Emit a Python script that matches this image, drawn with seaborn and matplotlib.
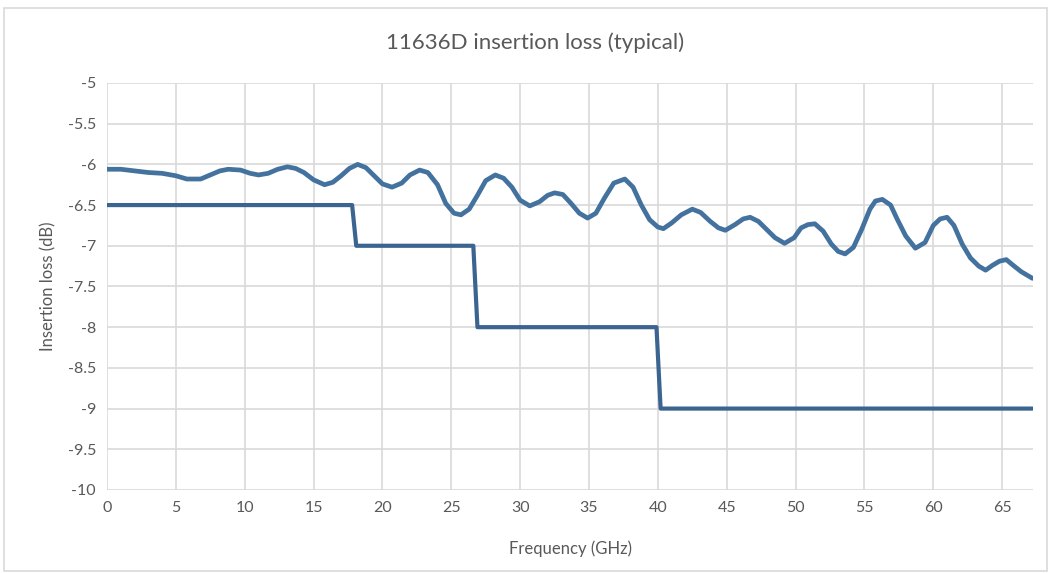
# 11636D insertion loss (typical) - Excel style line chart

import numpy as np
import pandas as pd
import seaborn as sns
import matplotlib.pyplot as plt
from matplotlib.patches import Rectangle


# =========================================
# DATA
# =========================================

freq_ghz = [
    0.0, 1.0, 2.0, 3.0, 4.0, 5.0, 5.8, 6.8, 7.5, 8.2, 8.8, 9.7, 10.4, 11.0,
    11.7, 12.4, 13.1, 13.7, 14.3, 15.0, 15.8, 16.4, 17.0, 17.6, 18.2, 18.8,
    19.4, 20.0, 20.7, 21.4, 22.0, 22.7, 23.3, 24.0, 24.6, 25.2, 25.7, 26.3,
    26.9, 27.5, 28.2, 28.8, 29.4, 30.0, 30.7, 31.4, 32.0, 32.5, 33.1, 33.7,
    34.3, 34.9, 35.5, 36.1, 36.8, 37.6, 38.2, 38.8, 39.4, 40.0, 40.4, 41.0,
    41.7, 42.5, 43.1, 43.8, 44.4, 44.9, 45.6, 46.2, 46.7, 47.3, 47.9, 48.5,
    49.2, 49.9, 50.4, 50.9, 51.4, 52.0, 52.6, 53.1, 53.6, 54.2, 54.8, 55.4,
    55.8, 56.3, 56.9, 57.4, 58.0, 58.7, 59.4, 60.0, 60.5, 61.0, 61.5, 62.1,
    62.7, 63.3, 63.8, 64.3, 64.8, 65.3, 65.8, 66.4, 67.2,
]

loss_typical_db = [
    -6.06, -6.06, -6.08, -6.10, -6.11, -6.14, -6.18, -6.18, -6.13, -6.08,
    -6.06, -6.07, -6.11, -6.13, -6.11, -6.06, -6.03, -6.05, -6.10, -6.19,
    -6.25, -6.22, -6.14, -6.05, -6.00, -6.04, -6.14, -6.24, -6.28, -6.23,
    -6.13, -6.07, -6.10, -6.25, -6.48, -6.60, -6.62, -6.55, -6.38, -6.20,
    -6.13, -6.17, -6.28, -6.44, -6.51, -6.46, -6.38, -6.35, -6.37, -6.48,
    -6.60, -6.66, -6.60, -6.42, -6.23, -6.18, -6.28, -6.50, -6.68, -6.77,
    -6.79, -6.72, -6.62, -6.55, -6.59, -6.70, -6.78, -6.81, -6.74, -6.67,
    -6.65, -6.70, -6.80, -6.90, -6.97, -6.90, -6.78, -6.74, -6.73, -6.82,
    -6.98, -7.07, -7.10, -7.02, -6.80, -6.55, -6.45, -6.43, -6.50, -6.68,
    -6.88, -7.03, -6.96, -6.75, -6.67, -6.65, -6.75, -6.98, -7.15, -7.25,
    -7.30, -7.24, -7.19, -7.17, -7.24, -7.32, -7.40,
]

spec_freq_ghz = [0.0, 17.8, 18.1, 26.6, 26.9, 39.9, 40.2, 67.2]
spec_loss_db = [-6.5, -6.5, -7.0, -7.0, -8.0, -8.0, -9.0, -9.0]

x_ticks = list(range(0, 70, 5))
y_ticks = [-10, -9.5, -9, -8.5, -8, -7.5, -7, -6.5, -6, -5.5, -5]
y_tick_labels = ["-10", "-9.5", "-9", "-8.5", "-8", "-7.5", "-7", "-6.5",
                 "-6", "-5.5", "-5"]


# =========================================
# PLOT
# =========================================

sns.set_style("white")
plt.rcParams['font.family'] = ['Lato', 'DejaVu Sans']

text_color = "#595959"

fig = plt.figure(figsize=(10.51, 5.73), dpi=100)
ax = fig.add_axes([0.1018, 0.1449, 0.8812, 0.7103])

typical = pd.DataFrame({"freq": freq_ghz, "loss": loss_typical_db})
spec = pd.DataFrame({"freq": spec_freq_ghz, "loss": spec_loss_db})

sns.lineplot(data=typical, x="freq", y="loss", ax=ax, color="#44729E",
             linewidth=3.4, estimator=None, sort=False,
             solid_joinstyle="round", solid_capstyle="round")
sns.lineplot(data=spec, x="freq", y="loss", ax=ax, color="#3B6590",
             linewidth=3.0, estimator=None, sort=False)

ax.set_xlim(0, 67.25)
ax.set_ylim(-10, -5)
ax.set_xticks(x_ticks)
ax.set_yticks(y_ticks)
ax.set_yticklabels(y_tick_labels)

ax.grid(True, color="#D9D9D9", linewidth=1.2)
ax.set_axisbelow(True)
for side in ["top", "right", "left", "bottom"]:
    ax.spines[side].set_visible(False)

ax.tick_params(axis="both", length=0, labelsize=11.5, colors=text_color, pad=8)

ax.set_xlabel("Frequency (GHz)", fontsize=12, color=text_color, labelpad=18)
ax.set_ylabel("Insertion loss (dB)", fontsize=12, color=text_color, labelpad=8)

fig.text(0.509, 0.925, "11636D insertion loss (typical)", ha="center",
         va="center", fontsize=16, color=text_color)

# chart border like the Excel chart area
fig.patches.append(Rectangle((0.004, 0.004), 0.992, 0.982, transform=fig.transFigure,
                             fill=False, edgecolor="#D9D9D9", linewidth=1.2))

fig.savefig("out.png", dpi=100, facecolor="white")
